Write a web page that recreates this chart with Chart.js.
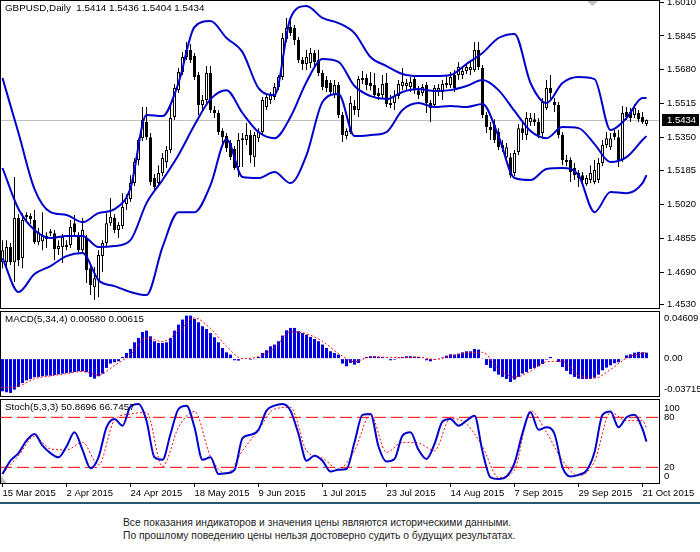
<!DOCTYPE html>
<html>
<head>
<meta charset="utf-8">
<script src="https://cdn.jsdelivr.net/npm/chart.js@4.4.1/dist/chart.umd.min.js"></script>
<style>
body { margin: 0; background: #fff; width: 700px; height: 552px; overflow: hidden; position: relative; font-family: "Liberation Sans", Arial, sans-serif; }
canvas { position: absolute; left: 0; }
#rule { position: absolute; left: 0; top: 502px; width: 700px; height: 2px; background: #245a6e; }
.note { position: absolute; left: 123px; font-size: 10.3px; line-height: 13px; color: #222; white-space: nowrap; }
</style>
</head>
<body>
<canvas id="mainChart" width="700" height="349" style="top:-20px"></canvas>
<canvas id="macdChart" width="700" height="126" style="top:291px"></canvas>
<canvas id="stochChart" width="700" height="127" style="top:379px"></canvas>
<div id="rule"></div>
<div class="note" style="top:516px">Все показания индикаторов и значения цены являются историческими данными.</div>
<div class="note" style="top:529px">По прошлому поведению цены нельзя достоверно судить о будущих результатах.</div>
<script>
// daily bars, 15 Mar 2015 .. 22 Oct 2015
const opens = [1.4738,1.4738,1.4812,1.4738,1.4954,1.4758,1.4969,1.4964,1.4944,1.4836,
1.4841,1.4851,1.4890,1.4880,1.4802,1.4812,1.4812,1.4822,1.4929,1.4871,
1.4797,1.4856,1.4709,1.4616,1.4650,1.4768,1.4832,1.4929,1.4954,1.4895,
1.4915,1.5022,1.5047,1.5125,1.5238,1.5345,1.5424,1.5350,1.5150,1.5125,
1.5174,1.5228,1.5287,1.5448,1.5580,1.5669,1.5742,1.5776,1.5747,1.5654,
1.5507,1.5532,1.5664,1.5483,1.5468,1.5380,1.5355,1.5321,1.5292,1.5204,
1.5336,1.5336,1.5360,1.5252,1.5345,1.5375,1.5497,1.5532,1.5546,1.5595,
1.5644,1.5830,1.5889,1.5884,1.5825,1.5727,1.5708,1.5713,1.5762,1.5727,
1.5664,1.5629,1.5615,1.5556,1.5605,1.5458,1.5355,1.5375,1.5502,1.5483,
1.5629,1.5639,1.5615,1.5605,1.5566,1.5556,1.5615,1.5517,1.5517,1.5551,
1.5600,1.5600,1.5595,1.5634,1.5580,1.5566,1.5605,1.5517,1.5507,1.5571,
1.5571,1.5605,1.5605,1.5654,1.5654,1.5654,1.5673,1.5678,1.5678,1.5776,
1.5688,1.5458,1.5399,1.5409,1.5375,1.5311,1.5252,1.5252,1.5174,1.5277,
1.5394,1.5360,1.5424,1.5438,1.5424,1.5370,1.5492,1.5590,1.5522,1.5507,
1.5360,1.5228,1.5238,1.5199,1.5174,1.5164,1.5120,1.5140,1.5130,1.5140,
1.5223,1.5311,1.5301,1.5370,1.5350,1.5238,1.5473,1.5473,1.5458,1.5468,
1.5448,1.5414];
const highs = [1.4846,1.4846,1.4832,1.5155,1.4973,1.4978,1.4983,1.4978,1.4993,1.4905,
1.4983,1.4885,1.4900,1.4895,1.4846,1.4876,1.4846,1.4944,1.4969,1.4885,
1.4954,1.4871,1.4729,1.4714,1.4797,1.4846,1.4978,1.5052,1.4973,1.4934,
1.5076,1.5071,1.5164,1.5248,1.5345,1.5497,1.5497,1.5370,1.5169,1.5213,
1.5272,1.5306,1.5507,1.5610,1.5688,1.5766,1.5815,1.5806,1.5762,1.5669,
1.5556,1.5698,1.5698,1.5502,1.5483,1.5394,1.5370,1.5336,1.5306,1.5370,
1.5370,1.5419,1.5385,1.5375,1.5394,1.5546,1.5566,1.5571,1.5615,1.5654,
1.5859,1.5933,1.5923,1.5899,1.5840,1.5742,1.5776,1.5786,1.5776,1.5776,
1.5678,1.5649,1.5629,1.5629,1.5620,1.5473,1.5394,1.5551,1.5532,1.5649,
1.5673,1.5659,1.5669,1.5664,1.5590,1.5654,1.5664,1.5556,1.5580,1.5629,
1.5688,1.5634,1.5644,1.5649,1.5600,1.5610,1.5620,1.5532,1.5605,1.5610,
1.5629,1.5649,1.5669,1.5678,1.5718,1.5698,1.5708,1.5727,1.5815,1.5815,
1.5703,1.5473,1.5424,1.5438,1.5394,1.5336,1.5321,1.5272,1.5287,1.5414,
1.5419,1.5473,1.5468,1.5468,1.5443,1.5541,1.5629,1.5654,1.5541,1.5522,
1.5375,1.5262,1.5252,1.5223,1.5189,1.5179,1.5164,1.5213,1.5238,1.5248,
1.5336,1.5375,1.5370,1.5385,1.5385,1.5502,1.5497,1.5492,1.5512,1.5483,
1.5473,1.5436];
const lows = [1.4709,1.4699,1.4724,1.4641,1.4719,1.4709,1.4944,1.4925,1.4827,1.4822,
1.4797,1.4807,1.4866,1.4748,1.4773,1.4734,1.4797,1.4807,1.4866,1.4787,
1.4787,1.4636,1.4577,1.4553,1.4567,1.4690,1.4817,1.4915,1.4880,1.4856,
1.4900,1.4993,1.5032,1.5111,1.5213,1.5331,1.5336,1.5115,1.5091,1.5111,
1.5159,1.5199,1.5272,1.5434,1.5566,1.5654,1.5727,1.5713,1.5629,1.5458,
1.5473,1.5517,1.5468,1.5443,1.5360,1.5311,1.5277,1.5238,1.5189,1.5155,
1.5204,1.5311,1.5223,1.5204,1.5326,1.5360,1.5483,1.5512,1.5532,1.5580,
1.5629,1.5815,1.5845,1.5801,1.5713,1.5678,1.5678,1.5688,1.5698,1.5649,
1.5580,1.5571,1.5556,1.5541,1.5443,1.5326,1.5340,1.5365,1.5458,1.5448,
1.5610,1.5580,1.5580,1.5541,1.5532,1.5541,1.5497,1.5492,1.5483,1.5536,
1.5580,1.5580,1.5571,1.5561,1.5536,1.5551,1.5468,1.5424,1.5492,1.5551,
1.5532,1.5590,1.5590,1.5571,1.5629,1.5634,1.5659,1.5654,1.5669,1.5678,
1.5443,1.5370,1.5336,1.5321,1.5287,1.5277,1.5228,1.5150,1.5159,1.5262,
1.5336,1.5336,1.5404,1.5404,1.5345,1.5345,1.5483,1.5532,1.5473,1.5345,
1.5213,1.5208,1.5130,1.5140,1.5106,1.5125,1.5111,1.5125,1.5120,1.5125,
1.5208,1.5297,1.5287,1.5336,1.5204,1.5228,1.5434,1.5424,1.5443,1.5424,
1.5414,1.5404];
const closes = [1.4797,1.4812,1.4738,1.4954,1.4748,1.4944,1.4959,1.4949,1.4836,1.4885,
1.4871,1.4866,1.4880,1.4802,1.4817,1.4861,1.4822,1.4910,1.4885,1.4797,
1.4895,1.4699,1.4626,1.4660,1.4773,1.4832,1.4929,1.4959,1.4895,1.4920,
1.5008,1.5052,1.5125,1.5228,1.5336,1.5434,1.5350,1.5130,1.5106,1.5174,
1.5248,1.5287,1.5443,1.5590,1.5669,1.5742,1.5776,1.5727,1.5644,1.5507,
1.5532,1.5664,1.5483,1.5468,1.5375,1.5350,1.5297,1.5252,1.5199,1.5336,
1.5345,1.5360,1.5262,1.5360,1.5375,1.5532,1.5546,1.5556,1.5595,1.5644,
1.5835,1.5884,1.5859,1.5825,1.5727,1.5708,1.5742,1.5762,1.5718,1.5664,
1.5595,1.5590,1.5571,1.5605,1.5458,1.5360,1.5380,1.5517,1.5483,1.5634,
1.5639,1.5605,1.5600,1.5556,1.5551,1.5610,1.5512,1.5507,1.5551,1.5610,
1.5620,1.5615,1.5620,1.5580,1.5556,1.5595,1.5517,1.5492,1.5590,1.5590,
1.5610,1.5615,1.5644,1.5590,1.5693,1.5673,1.5693,1.5693,1.5776,1.5693,
1.5458,1.5399,1.5385,1.5336,1.5301,1.5297,1.5301,1.5164,1.5272,1.5394,
1.5370,1.5443,1.5443,1.5424,1.5360,1.5522,1.5590,1.5566,1.5507,1.5360,
1.5238,1.5238,1.5179,1.5164,1.5150,1.5140,1.5150,1.5174,1.5189,1.5223,
1.5311,1.5345,1.5345,1.5350,1.5238,1.5468,1.5448,1.5443,1.5492,1.5438,
1.5424,1.5434];

// Bollinger bands, read every 4th bar
const bandIdx = [0,4,8,12,16,20,24,28,32,36,40,44,48,52,56,60,64,68,72,76,80,
84,88,92,96,100,104,108,112,116,120,124,128,132,136,140,144,148,152,156,160,161];
const bandUpper = [1.5639,1.5370,1.5096,1.4983,1.4969,1.4934,1.4978,1.4998,1.5101,1.5458,
1.5453,1.5615,1.5889,1.5918,1.5835,1.5766,1.5590,1.5556,1.5933,1.5992,
1.5933,1.5908,1.5859,1.5742,1.5698,1.5659,1.5649,1.5649,1.5654,1.5708,
1.5762,1.5835,1.5855,1.5615,1.5517,1.5615,1.5644,1.5634,1.5385,1.5443,
1.5541,1.5541];
const bandMiddle = [1.5199,1.4998,1.4895,1.4856,1.4866,1.4866,1.4812,1.4817,1.4846,1.5027,
1.5140,1.5262,1.5409,1.5536,1.5580,1.5468,1.5375,1.5345,1.5448,1.5620,
1.5732,1.5718,1.5600,1.5551,1.5536,1.5571,1.5585,1.5576,1.5580,1.5600,
1.5629,1.5580,1.5478,1.5380,1.5345,1.5399,1.5394,1.5316,1.5228,1.5252,
1.5336,1.5355];
const bandLower = [1.4758,1.4592,1.4680,1.4719,1.4768,1.4783,1.4650,1.4621,1.4592,1.4577,
1.4812,1.4983,1.4983,1.5115,1.5340,1.5155,1.5150,1.5179,1.5125,1.5262,
1.5522,1.5561,1.5355,1.5360,1.5375,1.5483,1.5517,1.5497,1.5502,1.5497,
1.5512,1.5355,1.5150,1.5140,1.5194,1.5199,1.5164,1.4983,1.5081,1.5076,
1.5125,1.5164];

// MACD(5,34,4)
const macdHist = [-0.0316,-0.0326,-0.0332,-0.0300,-0.0274,-0.0236,-0.0210,-0.0197,-0.0181,-0.0177,
-0.0171,-0.0165,-0.0165,-0.0158,-0.0152,-0.0145,-0.0139,-0.0136,-0.0129,-0.0123,
-0.0123,-0.0132,-0.0177,-0.0194,-0.0171,-0.0145,-0.0090,-0.0048,-0.0035,-0.0026,
0.0016,0.0055,0.0094,0.0158,0.0200,0.0258,0.0271,0.0216,0.0168,0.0152,
0.0152,0.0158,0.0200,0.0271,0.0329,0.0378,0.0416,0.0416,0.0384,0.0352,
0.0313,0.0287,0.0248,0.0207,0.0158,0.0103,0.0061,0.0039,-0.0016,-0.0019,
-0.0006,0.0006,-0.0010,-0.0003,0.0016,0.0055,0.0081,0.0119,0.0136,0.0168,
0.0223,0.0274,0.0297,0.0297,0.0265,0.0248,0.0232,0.0210,0.0190,0.0168,
0.0136,0.0103,0.0071,0.0055,0.0039,-0.0048,-0.0074,-0.0042,-0.0058,-0.0042,
-0.0003,0.0016,0.0023,0.0023,0.0019,0.0016,0.0003,-0.0016,-0.0010,0.0010,
0.0016,0.0023,0.0023,0.0019,0.0016,0.0006,-0.0016,-0.0026,-0.0010,-0.0003,
0.0010,0.0029,0.0042,0.0039,0.0048,0.0061,0.0071,0.0071,0.0094,0.0087,
0.0003,-0.0061,-0.0090,-0.0123,-0.0155,-0.0177,-0.0197,-0.0226,-0.0203,-0.0177,
-0.0145,-0.0129,-0.0100,-0.0090,-0.0074,-0.0052,-0.0010,0.0016,0.0000,-0.0032,
-0.0081,-0.0119,-0.0152,-0.0177,-0.0194,-0.0197,-0.0197,-0.0197,-0.0184,-0.0155,
-0.0113,-0.0087,-0.0065,-0.0045,-0.0035,-0.0003,0.0032,0.0042,0.0058,0.0065,
0.0061,0.00580];
const macdSignal = [-0.0284,-0.0268,-0.0195,-0.0168,-0.0145,-0.0123,-0.0160,-0.0065,0.0039,0.0200,
0.0165,0.0265,0.0394,0.0290,0.0120,0.0000,0.0020,0.0103,0.0260,0.0240,
0.0168,0.0050,-0.0030,0.0016,0.0012,0.0010,0.0015,-0.0008,0.0025,0.0055,
0.0061,-0.0100,-0.0180,-0.0123,-0.0030,-0.0026,-0.0160,-0.0190,-0.0106,0.0005,
0.0055,0.00615];

// Stochastic(5,3,3)
const stochIdx = [0,2,4,6,8,10,12,14,16,18,20,22,24,26,28,30,32,34,36,38,40,
42,44,46,48,50,52,54,56,58,60,62,64,66,68,70,72,74,76,78,80,
82,84,86,88,90,92,94,96,98,100,102,104,106,108,110,112,114,116,118,120,
122,124,126,128,130,132,134,136,138,140,142,144,146,148,150,152,154,156,158,160,161];
const stochMain = [12,28,37,52,60,46,37,32,45,62,
41,19,32,68,78,70,93,96,76,32,
29,60,90,94,68,29,32,12,13,17,
55,59,65,88,94,96,88,60,28,34,
28,15,17,18,50,83,84,45,27,30,
58,62,41,30,48,75,78,70,76,82,
39,8,6,9,25,61,86,65,68,60,
20,9,11,16,38,83,87,68,80,83,
66,50.8696];
const stochSignal = [12,34,57,42,41,50,23,77,84,86,
21,68,87,33,12,40,65,90,92,40,
31,18,40,83,38,50,49,40,79,72,
45,8,17,88,62,28,10,27,86,76,
76,66.7457];
const stochLevels = [80, 20];

// axes
const priceTicks = [1.4530,1.4690,1.4855,1.5020,1.5185,1.5350,1.5515,1.5680,1.5845,1.6010];
const macdTicks = [-0.03715, 0, 0.04609];
const macdTickLabels = ['-0.03715', '0.00', '0.04609'];
const stochTicks = [0, 20, 80, 100];
const stochTickLabels = ['0', '20', '80', '100'];
const dateTicks = [0,16,32,48,64,80,96,112,128,144,160];
const dateLabels = ['15 Mar 2015','2 Apr 2015','24 Apr 2015','18 May 2015','9 Jun 2015','1 Jul 2015',
  '23 Jul 2015','14 Aug 2015','7 Sep 2015','29 Sep 2015','21 Oct 2015'];

const xMin = -0.625, xMax = 164.375;
const BLUE = '#0000CD';
const FONT = '"Liberation Sans", Arial, sans-serif';

Chart.defaults.font.family = FONT;
Chart.defaults.font.size = 9.5;
Chart.defaults.color = '#000';
Chart.defaults.animation = false;

const last = closes.length - 1;
const mainTitle = 'GBPUSD,Daily  ' + [opens[last], highs[last], lows[last], closes[last]].map(v => v.toFixed(4)).join(' ');
const macdTitle = 'MACD(5,34,4) ' + macdHist[last].toFixed(5) + ' ' + macdSignal[macdSignal.length - 1].toFixed(5);
const stochTitle = 'Stoch(5,3,3) ' + stochMain[stochMain.length - 1].toFixed(4) + ' ' + stochSignal[stochSignal.length - 1].toFixed(4);

function pts(xs, ys) {
  return xs.map((x, k) => ({x: x, y: ys[k]}));
}

// edge labels are pushed inward, as the terminal does
function edgeLabel(labels) {
  return (v, i, arr) => i === 0 ? [labels[i], ''] : (i === arr.length - 1 ? ['', labels[i]] : labels[i]);
}

function framePlugin(label) {
  return {
    id: 'frame',
    afterDraw(chart) {
      const {ctx, chartArea: a} = chart;
      ctx.save();
      ctx.strokeStyle = '#000';
      ctx.lineWidth = 1;
      ctx.strokeRect(a.left + 0.5, a.top + 0.5, a.right - a.left - 1, a.bottom - a.top - 1);
      ctx.fillStyle = '#000';
      ctx.font = '9.8px ' + FONT;
      ctx.textBaseline = 'middle';
      ctx.fillText(label, a.left + 5, a.top + 8);
      ctx.restore();
    }
  };
}

const hiddenX = { type: 'linear', display: false, min: xMin, max: xMax, offset: false };

function lineSet(data, color, width, dash, order) {
  return {
    type: 'line', data: data, borderColor: color, borderWidth: width, borderDash: dash || [],
    pointRadius: 0, cubicInterpolationMode: 'monotone', order: order
  };
}

const lastPricePlugin = {
  id: 'lastPrice',
  beforeDatasetsDraw(chart) {
    const {ctx, chartArea: a, scales} = chart;
    const y = Math.round(scales.y.getPixelForValue(closes[last])) + 0.5;
    ctx.save();
    ctx.strokeStyle = '#c0c0c0';
    ctx.lineWidth = 1;
    ctx.beginPath();
    ctx.moveTo(a.left, y);
    ctx.lineTo(a.right, y);
    ctx.stroke();
    ctx.restore();
  },
  afterDraw(chart) {
    const {ctx, chartArea: a, scales} = chart;
    const y = Math.round(scales.y.getPixelForValue(closes[last]));
    ctx.save();
    ctx.fillStyle = '#000';
    ctx.fillRect(a.right + 2, y - 6, 37, 12);
    ctx.fillStyle = '#fff';
    ctx.font = '9.5px ' + FONT;
    ctx.textBaseline = 'middle';
    ctx.fillText(closes[last].toFixed(4), a.right + 7, y);
    // chart shift marker
    ctx.fillStyle = '#c0c0c0';
    ctx.beginPath();
    ctx.moveTo(a.right - 73, a.top + 1);
    ctx.lineTo(a.right - 62, a.top + 1);
    ctx.lineTo(a.right - 67.5, a.top + 6);
    ctx.closePath();
    ctx.fill();
    ctx.restore();
  }
};

new Chart(document.getElementById('mainChart'), {
  type: 'bar',
  data: {
    datasets: [
      {
        data: lows.map((l, i) => ({x: i, y: [l, highs[i]]})),
        backgroundColor: '#000', barThickness: 1, grouped: false, inflateAmount: 0, order: 3
      },
      {
        data: opens.map((o, i) => ({x: i, y: [o, closes[i]]})),
        backgroundColor: opens.map((o, i) => closes[i] >= o ? '#fff' : '#000'),
        borderColor: '#000', borderWidth: 1, borderSkipped: false,
        barThickness: 3, grouped: false, inflateAmount: 0, order: 2
      },
      lineSet(pts(bandIdx, bandUpper), BLUE, 2, null, 1),
      lineSet(pts(bandIdx, bandMiddle), BLUE, 2, null, 1),
      lineSet(pts(bandIdx, bandLower), BLUE, 2, null, 1)
    ]
  },
  options: {
    responsive: false,
    layout: { padding: { top: 20, bottom: 20, left: 0, right: 0 } },
    plugins: { legend: { display: false }, tooltip: { enabled: false } },
    scales: {
      x: hiddenX,
      y: {
        position: 'right', min: 1.4509, max: 1.6021,
        afterFit: s => { s.width = 40; },
        afterBuildTicks: s => { s.ticks = priceTicks.map(v => ({value: v})); },
        ticks: { padding: 3, autoSkip: false, callback: v => Number(v).toFixed(4) },
        grid: { display: true, drawOnChartArea: false, drawTicks: true, tickLength: 4, color: '#000' },
        border: { display: false }
      }
    }
  },
  plugins: [lastPricePlugin, framePlugin(mainTitle)]
});

new Chart(document.getElementById('macdChart'), {
  type: 'bar',
  data: {
    datasets: [
      {
        data: macdHist.map((v, i) => ({x: i, y: v})),
        backgroundColor: '#0000E0', barThickness: 3, grouped: false, inflateAmount: 0, order: 2
      },
      lineSet(pts(bandIdx, macdSignal), '#ff0000', 1, [2, 2], 1)
    ]
  },
  options: {
    responsive: false,
    layout: { padding: { top: 20, bottom: 20, left: 0, right: 0 } },
    plugins: { legend: { display: false }, tooltip: { enabled: false } },
    scales: {
      x: hiddenX,
      y: {
        position: 'right', min: -0.03715, max: 0.04609,
        afterFit: s => { s.width = 40; },
        afterBuildTicks: s => { s.ticks = macdTicks.map(v => ({value: v})); },
        ticks: { padding: 4, autoSkip: false, font: { lineHeight: 1.6 }, callback: edgeLabel(macdTickLabels) },
        grid: { display: true, drawOnChartArea: false, drawTicks: false },
        border: { display: false }
      }
    }
  },
  plugins: [framePlugin(macdTitle)]
});

const cornerPlugin = {
  id: 'corner',
  afterDraw(chart) {
    const {ctx, chartArea: a} = chart;
    ctx.save();
    ctx.fillStyle = '#c0c0c0';
    ctx.beginPath();
    ctx.moveTo(a.left + 1, a.bottom - 8);
    ctx.lineTo(a.left + 1, a.bottom - 1);
    ctx.lineTo(a.left + 7, a.bottom - 1);
    ctx.closePath();
    ctx.fill();
    ctx.restore();
  }
};

// level lines run across the whole x range of the panel
const levelSets = stochLevels.map(level => ({
  type: 'line', data: [{x: xMin, y: level}, {x: xMax, y: level}],
  borderColor: '#ff0000', borderWidth: 1, borderDash: [12, 5], pointRadius: 0, order: 3
}));

new Chart(document.getElementById('stochChart'), {
  type: 'line',
  data: {
    datasets: [
      lineSet(pts(stochIdx, stochMain), BLUE, 2, null, 1),
      lineSet(pts(bandIdx, stochSignal), '#ff0000', 1, [2, 2], 2)
    ].concat(levelSets)
  },
  options: {
    responsive: false,
    layout: { padding: { top: 20, bottom: 4, left: 0, right: 0 } },
    plugins: { legend: { display: false }, tooltip: { enabled: false } },
    scales: {
      x: {
        type: 'linear', min: xMin, max: xMax, offset: false,
        afterBuildTicks: s => { s.ticks = dateTicks.map(v => ({value: v})); },
        afterFit: s => { s.height = 18; },
        ticks: { autoSkip: false, maxRotation: 0, minRotation: 0, align: 'start', padding: 1,
                 callback: (v, i) => dateLabels[i] },
        grid: { display: true, drawOnChartArea: false, drawTicks: true, tickLength: 3, color: '#000', offset: false },
        border: { display: false }
      },
      y: {
        position: 'right', min: 0, max: 102,
        afterFit: s => { s.width = 40; },
        afterBuildTicks: s => { s.ticks = stochTicks.map(v => ({value: v})); },
        ticks: { padding: 4, autoSkip: false, font: { lineHeight: 1.6 }, callback: edgeLabel(stochTickLabels) },
        grid: { display: true, drawOnChartArea: false, drawTicks: false },
        border: { display: false }
      }
    }
  },
  plugins: [cornerPlugin, framePlugin(stochTitle)]
});
</script>
</body>
</html>
